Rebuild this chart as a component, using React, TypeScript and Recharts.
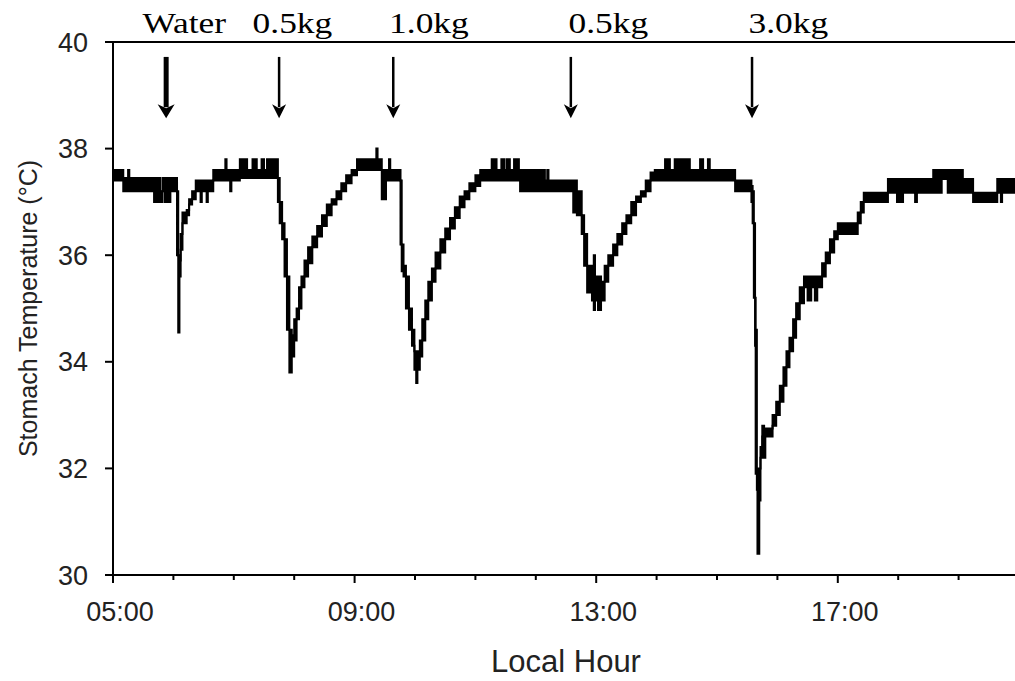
import { AreaChart, Area, XAxis, YAxis, ReferenceLine, ReferenceDot, Label } from 'recharts';

// logged stomach temperature: time of day (decimal hours) and the lower / upper edge of the recorded band (°C)
const hours = [
    5.0, 5.17, 5.25, 5.27, 5.68, 5.72, 5.75, 5.78, 5.82, 5.86, 5.95, 6.06, 6.08, 6.1, 6.12, 6.15, 6.22, 6.26, 6.31, 6.37,
    6.45, 6.47, 6.55, 6.57, 6.66, 6.86, 6.88, 6.94, 6.96, 7.1, 7.22, 7.31, 7.38, 7.46, 7.5, 7.55, 7.73, 7.76, 7.8, 7.84,
    7.88, 7.92, 7.96, 8.0, 8.04, 8.08, 8.12, 8.17, 8.23, 8.3, 8.38, 8.46, 8.54, 8.62, 8.7, 8.78, 8.86, 8.95, 9.04, 9.36,
    9.38, 9.45, 9.52, 9.57, 9.59, 9.76, 9.78, 9.81, 9.85, 9.9, 9.95, 9.99, 10.02, 10.04, 10.08, 10.12, 10.17, 10.22, 10.28, 10.34,
    10.42, 10.5, 10.58, 10.66, 10.74, 10.82, 10.9, 11.0, 11.08, 11.1, 11.27, 11.35, 11.43, 11.48, 11.52, 11.57, 11.64, 11.72, 11.74, 11.9,
    11.93, 12.15, 12.19, 12.21, 12.62, 12.68, 12.76, 12.8, 12.85, 12.93, 12.96, 12.98, 13.03, 13.08, 13.14, 13.2, 13.28, 13.35, 13.43, 13.5,
    13.58, 13.66, 13.74, 13.82, 13.9, 13.97, 14.14, 14.22, 14.3, 14.55, 14.72, 14.77, 14.85, 14.88, 15.3, 15.57, 15.59, 15.61, 15.63, 15.64,
    15.66, 15.67, 15.7, 15.72, 15.75, 15.78, 15.8, 15.92, 15.98, 16.04, 16.1, 16.15, 16.2, 16.26, 16.31, 16.37, 16.44, 16.5, 16.56, 16.62,
    16.66, 16.74, 16.8, 16.87, 16.94, 17.0, 17.33, 17.38, 17.43, 17.83, 17.98, 18.08, 18.28, 18.31, 18.58, 18.72, 18.82, 19.07, 19.24, 19.64,
    19.7, 19.72, 20.0,
];
const tempLow = [
    37.4, 37.2, 37.2, 37.2, 37.0, 37.0, 37.2, 37.0, 37.2, 37.0, 37.2, 36.0, 34.55, 35.6, 36.1, 36.6, 36.75, 36.95, 37.05, 37.2,
    37.0, 37.2, 37.0, 37.2, 37.4, 37.4, 37.4, 37.2, 37.4, 37.45, 37.45, 37.45, 37.45, 37.45, 37.45, 37.45, 37.0, 36.6, 36.3, 35.6,
    34.6, 33.8, 34.1, 34.4, 34.8, 35.0, 35.4, 35.6, 35.85, 36.15, 36.35, 36.55, 36.75, 36.95, 37.05, 37.2, 37.35, 37.5, 37.6, 37.6,
    37.6, 37.05, 37.4, 37.4, 37.4, 36.2, 35.7, 35.6, 35.0, 34.6, 34.3, 33.85, 33.6, 33.85, 34.1, 34.4, 34.8, 35.15, 35.5, 35.75,
    36.05, 36.3, 36.5, 36.7, 36.9, 37.05, 37.2, 37.3, 37.5, 37.4, 37.4, 37.4, 37.4, 37.4, 37.4, 37.4, 37.4, 37.4, 37.2, 37.4,
    37.2, 37.2, 37.2, 37.2, 36.8, 36.75, 36.4, 35.8, 35.3, 35.15, 34.97, 35.15, 34.97, 35.15, 35.5, 35.8, 36.0, 36.2, 36.4, 36.6,
    36.75, 37.0, 37.1, 37.2, 37.4, 37.4, 37.4, 37.4, 37.4, 37.4, 37.4, 37.4, 37.4, 37.4, 37.2, 37.0, 36.6, 35.2, 34.3, 31.9,
    31.6, 30.4, 31.4, 32.2, 32.6, 32.2, 32.6, 32.8, 33.0, 33.25, 33.55, 33.9, 34.2, 34.45, 34.8, 35.1, 35.4, 35.15, 35.4, 35.15,
    35.4, 35.6, 35.85, 36.05, 36.3, 36.4, 36.6, 36.8, 37.0, 37.17, 37.0, 37.17, 37.0, 37.17, 37.17, 37.43, 37.17, 37.17, 37.0, 37.17,
    37.0, 37.17, 37.17,
];
const tempHigh = [
    37.6, 37.45, 37.6, 37.45, 37.45, 37.2, 37.45, 37.2, 37.45, 37.45, 37.45, 37.2, 36.0, 35.9, 36.4, 36.8, 36.85, 37.05, 37.2, 37.4,
    37.4, 37.4, 37.4, 37.4, 37.6, 37.8, 37.6, 37.6, 37.6, 37.8, 37.6, 37.8, 37.6, 37.8, 37.6, 37.8, 37.45, 37.0, 36.6, 36.3,
    35.6, 34.6, 34.5, 34.8, 35.0, 35.4, 35.6, 35.9, 36.15, 36.35, 36.55, 36.75, 36.95, 37.05, 37.2, 37.35, 37.5, 37.6, 37.8, 38.0,
    37.8, 37.6, 37.6, 37.8, 37.6, 37.4, 36.2, 35.8, 35.6, 35.0, 34.6, 34.2, 34.2, 34.2, 34.4, 34.8, 35.15, 35.5, 35.75, 36.05,
    36.3, 36.5, 36.7, 36.9, 37.1, 37.2, 37.35, 37.5, 37.6, 37.6, 37.8, 37.6, 37.8, 37.6, 37.8, 37.6, 37.8, 37.6, 37.6, 37.6,
    37.6, 37.4, 37.6, 37.4, 37.4, 37.2, 36.75, 36.4, 35.8, 35.6, 36.0, 35.6, 35.6, 35.5, 35.8, 36.0, 36.2, 36.4, 36.6, 36.75,
    37.0, 37.1, 37.2, 37.4, 37.55, 37.6, 37.8, 37.6, 37.8, 37.6, 37.8, 37.6, 37.8, 37.6, 37.4, 37.3, 37.2, 36.6, 35.2, 34.6,
    32.0, 31.9, 32.0, 32.4, 32.8, 32.75, 32.75, 33.0, 33.25, 33.55, 33.9, 34.2, 34.45, 34.8, 35.1, 35.4, 35.6, 35.6, 35.6, 35.6,
    35.6, 35.85, 36.05, 36.3, 36.45, 36.6, 36.8, 37.0, 37.17, 37.43, 37.43, 37.43, 37.43, 37.43, 37.6, 37.6, 37.6, 37.43, 37.17, 37.43,
    37.43, 37.43, 37.43,
];

const hourTicks = [5, 6, 7, 8, 9, 10, 11, 12, 13, 14, 15, 16, 17, 18, 19, 20];
const majorHours = [5, 9, 13, 17];
const tempTicks = [30, 32, 34, 36, 38, 40];

// feeding events: arrow time, label text and where the label sits
const feedHours = [5.88, 7.75, 9.64, 12.58, 15.58];
const feedLabels = ['Water', '0.5kg', '1.0kg', '0.5kg', '3.0kg'];
const feedLabelHours = [6.18, 7.97, 10.23, 13.2, 16.18];
const arrowTop = 39.72;
const arrowTip = 38.57;

const series = hours.map((h, i) => ({ h, band: [tempLow[i], tempHigh[i]] }));

const sans = "'Liberation Sans', Arial, sans-serif";
const serif = "'Liberation Serif', 'Times New Roman', serif";

const pad2 = (n: number) => String(n).padStart(2, '0');

const HourTick = (props: any) => {
    const { x, y, payload } = props;
    const major = majorHours.includes(payload.value);
    return (
        <g>
            <line x1={x} x2={x} y1={y} y2={y + (major ? 8 : 5)} stroke="#000" strokeWidth={2} />
            {major && (
                <text x={x + 7} y={y + 46} textAnchor="middle" fill="#222" fontSize={27} fontFamily={sans}>
                    {`${pad2(payload.value)}:00`}
                </text>
            )}
        </g>
    );
};

const FeedArrow = ({ x1, y1, y2, heavy }: any) => {
    const top = Math.min(y1, y2);
    const tip = Math.max(y1, y2);
    const head = 14;
    const half = heavy ? 8.5 : 7;
    return (
        <g>
            <line x1={x1} x2={x1} y1={top} y2={tip - head + 3} stroke="#000" strokeWidth={heavy ? 5 : 2.5} />
            <polygon
                points={`${x1 - half},${tip - head} ${x1},${tip - head + 4} ${x1 + half},${tip - head} ${x1},${tip}`}
                fill="#000"
            />
        </g>
    );
};

const YTitle = ({ viewBox }: any) => {
    const cx = viewBox.x + 28;
    const cy = viewBox.y + viewBox.height / 2;
    return (
        <text
            x={cx}
            y={cy}
            transform={`rotate(-90, ${cx}, ${cy})`}
            textAnchor="middle"
            dominantBaseline="central"
            fill="#222"
            fontSize={25}
            fontFamily={sans}
        >
            Stomach Temperature (°C)
        </text>
    );
};

const XTitle = ({ viewBox }: any) => (
    <text x={viewBox.x + viewBox.width / 2} y={viewBox.y + 97} textAnchor="middle" fill="#222" fontSize={31} fontFamily={sans}>
        Local Hour
    </text>
);

export default function App() {
    return (
        <div style={{ position: 'absolute', left: 0, top: 0, width: 1015, height: 681, overflow: 'hidden', background: '#fff' }}>
            <AreaChart width={1019} height={681} data={series} margin={{ top: 42, right: 0, bottom: 0, left: 0 }}>
                <XAxis
                    dataKey="h"
                    type="number"
                    domain={[5, 20]}
                    ticks={hourTicks}
                    interval={0}
                    height={106}
                    tickSize={0}
                    tickMargin={0}
                    tickLine={false}
                    axisLine={{ stroke: '#000', strokeWidth: 2 }}
                    tick={(p: any) => <HourTick {...p} />}
                >
                    <Label content={XTitle} />
                </XAxis>
                <YAxis
                    type="number"
                    domain={[30, 40]}
                    ticks={tempTicks}
                    interval={0}
                    width={113}
                    tickSize={8}
                    tickMargin={17}
                    axisLine={{ stroke: '#000', strokeWidth: 2 }}
                    tickLine={{ stroke: '#000', strokeWidth: 2 }}
                    tick={{ fill: '#222', fontSize: 27, fontFamily: sans }}
                >
                    <Label content={YTitle} />
                </YAxis>

                {/* top frame */}
                <ReferenceLine y={40} stroke="#000" strokeWidth={2} ifOverflow="visible" />

                <Area
                    type="stepAfter"
                    dataKey="band"
                    stroke="#000"
                    strokeWidth={2}
                    fill="#000"
                    fillOpacity={1}
                    dot={false}
                    activeDot={false}
                    isAnimationActive={false}
                />

                {feedHours.map((h, i) => (
                    <ReferenceLine
                        key={`arrow-${i}`}
                        segment={[{ x: h, y: arrowTop }, { x: h, y: arrowTip }]}
                        ifOverflow="visible"
                        shape={(p: any) => <FeedArrow {...p} heavy={feedLabels[i] === 'Water'} />}
                    />
                ))}
                {feedLabelHours.map((h, i) => (
                    <ReferenceDot
                        key={`label-${i}`}
                        x={h}
                        y={40}
                        ifOverflow="visible"
                        shape={(p: any) => (
                            <text
                                transform={`translate(${p.cx},${p.cy - 9}) scale(1.18,1)`}
                                textAnchor="middle"
                                fill="#000"
                                fontSize={30}
                                fontFamily={serif}
                            >
                                {feedLabels[i]}
                            </text>
                        )}
                    />
                ))}
            </AreaChart>
        </div>
    );
}
